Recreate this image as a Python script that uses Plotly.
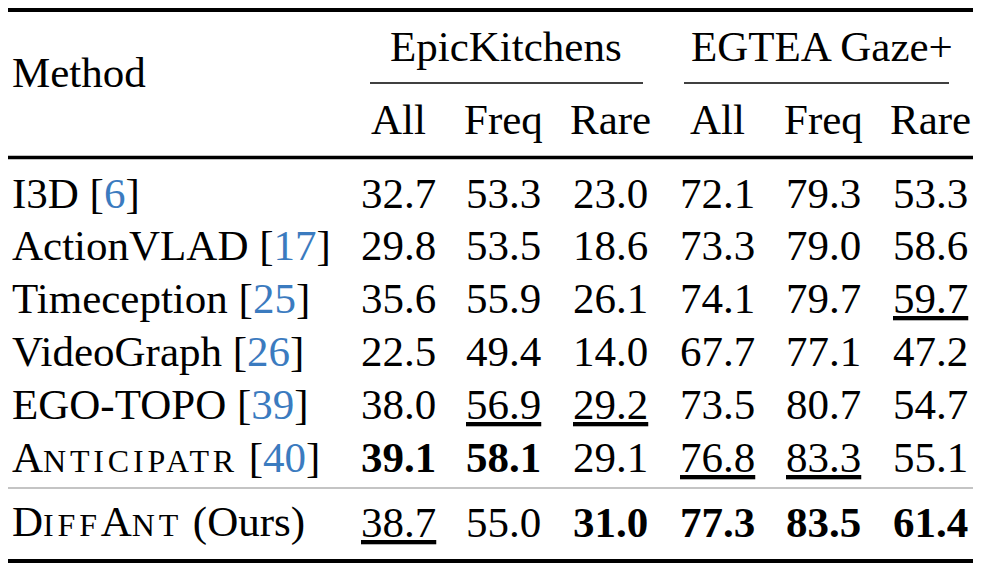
import plotly.graph_objects as go

# ---- table data ----
datasets = ["EpicKitchens", "EGTEA Gaze+"]
subcols = ["All", "Freq", "Rare"]
methods = ["I3D", "ActionVLAD", "Timeception", "VideoGraph", "EGO-TOPO", "ANTICIPATR", "DIFFANT"]
citations = ["6", "17", "25", "26", "39", "40", "Ours"]

epic_all = [32.7, 29.8, 35.6, 22.5, 38.0, 39.1, 38.7]
epic_freq = [53.3, 53.5, 55.9, 49.4, 56.9, 58.1, 55.0]
epic_rare = [23.0, 18.6, 26.1, 14.0, 29.2, 29.1, 31.0]
egtea_all = [72.1, 73.3, 74.1, 67.7, 73.5, 76.8, 77.3]
egtea_freq = [79.3, 79.0, 79.7, 77.1, 80.7, 83.3, 83.5]
egtea_rare = [53.3, 58.6, 59.7, 47.2, 54.7, 55.1, 61.4]
columns = [epic_all, epic_freq, epic_rare, egtea_all, egtea_freq, egtea_rare]

# ---- layout constants (pixels) ----
W, H = 983, 574
OFF = 8  # page body margin, so shift the coordinate frame
FONT = "Liberation Serif, Times New Roman, serif"
FS = 43
SC = 32  # small caps size
CITE = "#3b7bbf"
col_x = [398, 503, 610, 717, 823, 930]
row_y0, row_dy = 193, 52.8
ours_y = 522
name_x = 10
left, right = 5, 973

fig = go.Figure()


def text(x, y, s, anchor="center"):
    fig.add_annotation(x=x, y=y, text=s, showarrow=False, xanchor=anchor, yanchor="middle",
                       font=dict(family=FONT, size=FS, color="black"))


def hline(x0, x1, y, w, color="black"):
    fig.add_shape(type="line", x0=x0, x1=x1, y0=y, y1=y, line=dict(color=color, width=w))


def small_caps(name):
    # big first letter, small caps for the rest (DIFFANT: D..A.. big)
    big = {"ANTICIPATR": [0], "DIFFANT": [0, 4]}[name]
    out = ""
    for i, ch in enumerate(name):
        if i in big:
            out += ch
        else:
            out += f"<span style='font-size:{SC}px;letter-spacing:3.8px'>{ch}</span>"
    return out


# rules
hline(left, right, 10, 4)
hline(left, right, 157.5, 3.5)
hline(370, 643, 83, 1.5)
hline(684, 949, 83, 1.5)
hline(left, right, 488, 2, "#c4c4c4")
hline(left, right, 561, 4)

# header
text(name_x, 72, "Method", "left")
text((col_x[0] + col_x[2]) / 2 + 2, 46, datasets[0])
text((col_x[3] + col_x[5]) / 2 - 2, 46, datasets[1])
for i, c in enumerate(col_x):
    text(c, 119, subcols[i % 3])

# body
for r, (m, cite) in enumerate(zip(methods, citations)):
    y = row_y0 + r * row_dy if r < len(methods) - 1 else ours_y
    label = small_caps(m) if m in ("ANTICIPATR", "DIFFANT") else m
    if cite == "Ours":
        label += " (Ours)"
    else:
        label += f" [<span style='color:{CITE}'>{cite}</span>]"
    text(name_x, y, label, "left")
    for c, vals in enumerate(columns):
        ranked = sorted(vals, reverse=True)
        v = vals[r]
        s = f"{v:.1f}"
        if v == ranked[0]:
            s = f"<b>{s}</b>"
        elif v == ranked[1]:
            s = f"<u>{s}</u>"
        text(col_x[c], y, s)

fig.update_layout(
    width=W, height=H, margin=dict(l=0, r=0, t=0, b=0),
    paper_bgcolor="white", plot_bgcolor="white", showlegend=False,
    xaxis=dict(range=[OFF, W + OFF], visible=False, fixedrange=True),
    yaxis=dict(range=[H + OFF, OFF], visible=False, fixedrange=True),
)

fig.write_html("out.html")
